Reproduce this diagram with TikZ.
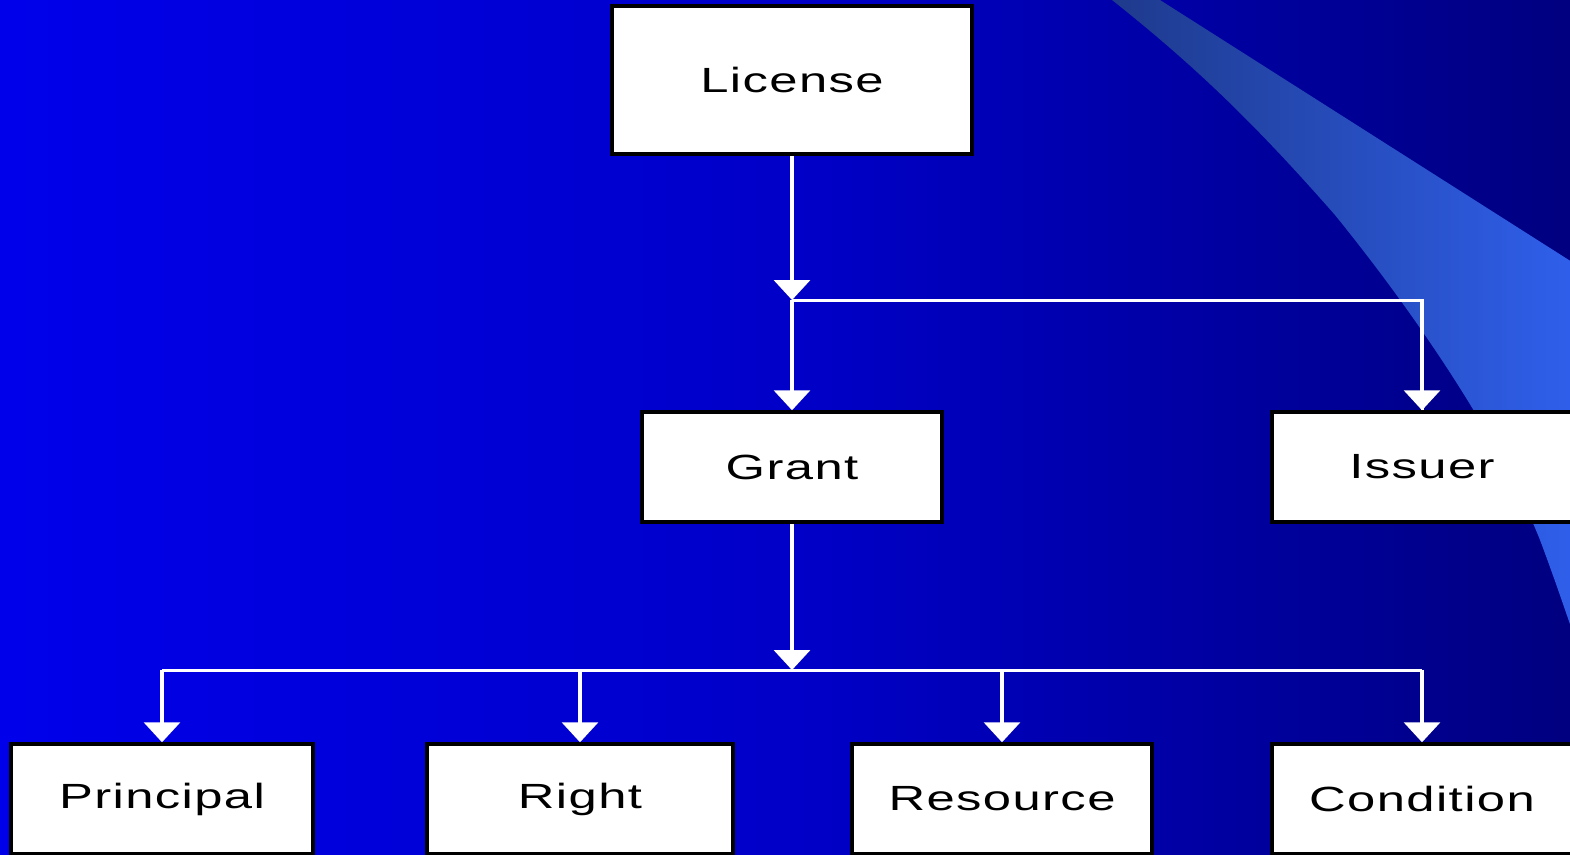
\documentclass[tikz,border=0pt]{standalone}
\usepackage{fontspec}
\setmainfont{Liberation Sans}[FakeStretch=1.45,LetterSpace=4]
\usetikzlibrary{arrows.meta}
\pgfdeclarehorizontalshading{bgshade}{100bp}{rgb(0bp)=(0,0,0.98); rgb(25bp)=(0,0,0.92); rgb(51bp)=(0,0,0.78); rgb(76bp)=(0,0,0.49); rgb(100bp)=(0,0,0.18)}
\definecolor{bandL}{RGB}{30,58,140}
\definecolor{bandR}{RGB}{47,95,235}
\tikzset{
  box/.style={draw=black, line width=3.5pt, fill=white, minimum width=300pt, minimum height=110pt, inner sep=0pt, font=\fontsize{35}{42}\selectfont},
  conn/.style={draw=white, line width=3.5pt, -{Triangle[width=36pt,length=20pt]}},
  hline/.style={draw=white, line width=3pt}
}
\begin{document}
\begin{tikzpicture}[x=1pt,y=-1pt]
\useasboundingbox (0,0) rectangle (1570,854);
\clip (0,0) rectangle (1570,854);
\shade[shading=bgshade] (0,0) rectangle (1570,854);
\shade[left color=bandL, right color=bandR]
  (1112,0) .. controls (1190,62) and (1250,118) .. (1335,215)
  .. controls (1420,320) and (1500,440) .. (1540,540)
  .. controls (1555,580) and (1565,610) .. (1572,630)
  -- (1572,262) -- (1160,0) -- cycle;
\node[box, minimum width=360pt, minimum height=148pt] (license) at (792,80) {License};
\node[box] (grant) at (792,467) {Grant};
\node[box] (issuer) at (1422,467) {Issuer};
\node[box, minimum width=302pt] (principal) at (162,799) {Principal};
\node[box, minimum width=306pt] (right) at (580,799) {Right};
\node[box] (resource) at (1002,799) {Resource};
\node[box] (condition) at (1422,799) {Condition};
\coordinate (j1) at (792,300);
\coordinate (j2) at (792,670);
\draw[hline] (j1) -| (issuer.north);
\draw[hline] (j2 -| principal.north) -- (j2 -| condition.north);
\draw[conn] (license.south) -- (j1);
\draw[conn] (j1) -- (grant.north);
\draw[conn] (j1 -| issuer.north) -- (issuer.north);
\draw[conn] (grant.south) -- (j2);
\draw[conn] (j2 -| principal.north) -- (principal.north);
\draw[conn] (j2 -| right.north) -- (right.north);
\draw[conn] (j2 -| resource.north) -- (resource.north);
\draw[conn] (j2 -| condition.north) -- (condition.north);
\end{tikzpicture}
\end{document}
